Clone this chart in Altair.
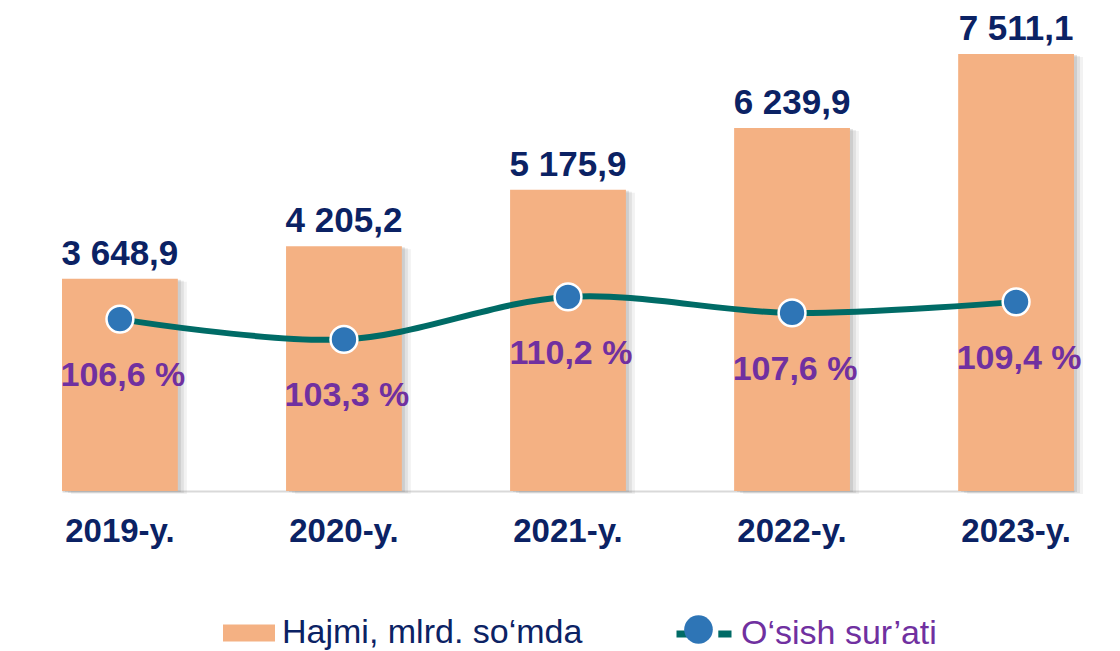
import altair as alt
import pandas as pd

years = ["2019-y.", "2020-y.", "2021-y.", "2022-y.", "2023-y."]
volume = [3648.9, 4205.2, 5175.9, 6239.9, 7511.1]
growth = [106.6, 103.3, 110.2, 107.6, 109.4]

bar_name = "Hajmi, mlrd. so\u2018mda"
line_name = "O\u2018sish sur\u2019ati"
marker_name = "marker"

NAVY = "#0B2264"
PURPLE = "#7030A0"
ORANGE = "#F4B183"
TEAL = "#006B66"
BLUE = "#2E75B6"
FONT = "Liberation Sans"


def fmt_volume(v):
    whole, frac = f"{v:.1f}".split(".")
    n = int(whole)
    s = f"{n:,}".replace(",", " ")
    return f"{s},{frac}"


df = pd.DataFrame({
    "year": years,
    "volume": volume,
    "growth": growth,
    "vol_label": [fmt_volume(v) for v in volume],
    "pct_label": [f"{g:.1f}".replace(".", ",") + " %" for g in growth],
    "s1": [bar_name] * len(years),
    "s2": [line_name] * len(years),
    "s3": [marker_name] * len(years),
})

x_enc = alt.X(
    "year:N",
    sort=years,
    scale=alt.Scale(range=[54, 1066], paddingInner=0.483, paddingOuter=0),
    axis=alt.Axis(
        title=None, labelAngle=0, labelFont=FONT, labelFontSize=33,
        labelFontWeight="bold", labelColor=NAVY, ticks=False,
        domainColor="#D9D9D9", domainWidth=2, labelPadding=24, grid=False,
    ),
)

y_bar = alt.Y("volume:Q", scale=alt.Scale(domain=[0, 8300], nice=False), axis=None)
y_line = alt.Y("growth:Q", scale=alt.Scale(domain=[78.7, 157.1], nice=False, zero=False), axis=None)

base = alt.Chart(df)

shadows = [
    base.mark_bar(color="#7F7F7F", opacity=op, xOffset=xo, yOffset=yo).encode(x=x_enc, y=y_bar)
    for op, xo, yo in [(0.10, 9, 3), (0.14, 6, 2), (0.20, 3, 1)]
]

bars = base.mark_bar(opacity=1).encode(
    x=x_enc,
    y=y_bar,
    color=alt.Color(
        "s1:N",
        scale=alt.Scale(domain=[bar_name], range=[ORANGE]),
        legend=alt.Legend(
            orient="none", legendX=215, legendY=599, title=None,
            symbolType="M-1,-0.33L1,-0.33L1,0.33L-1,0.33Z", symbolSize=2704,
            symbolStrokeWidth=0, symbolOpacity=1,
            labelFont=FONT, labelFontSize=34, labelColor=NAVY, labelOffset=7,
            labelLimit=600, padding=0,
        ),
    ),
)

vol_text = base.mark_text(
    baseline="alphabetic", dy=-14, fontSize=35, fontWeight="bold", color=NAVY, font=FONT
).encode(x=x_enc, y=y_bar, text="vol_label:N")

line = base.mark_line(interpolate="catmull-rom", strokeWidth=6).encode(
    x=x_enc,
    y=y_line,
    stroke=alt.Stroke(
        "s2:N",
        scale=alt.Scale(domain=[line_name], range=[TEAL]),
        legend=alt.Legend(
            orient="none", legendX=665, legendY=595, title=None,
            symbolType="M-1,0L-0.52,0M0.52,0L1,0", symbolSize=3025,
            symbolStrokeWidth=7, labelFont=FONT, labelFontSize=34,
            labelColor=PURPLE, labelOffset=6, labelLimit=600, padding=0,
        ),
    ),
)

points = base.mark_point(filled=True, size=720, stroke="white", strokeWidth=2.5, opacity=1, strokeOpacity=1).encode(
    x=x_enc,
    y=y_line,
    fill=alt.Fill(
        "s3:N",
        scale=alt.Scale(domain=[marker_name], range=[BLUE]),
        legend=alt.Legend(
            orient="none", legendX=676, legendY=607, title=None,
            symbolType="circle", symbolSize=820, symbolStrokeWidth=0,
            labelExpr="''", labelFontSize=1, padding=0,
        ),
    ),
)

pct_text = base.mark_text(
    baseline="middle", dy=57, dx=3, fontSize=34, fontWeight="bold", color=PURPLE, font=FONT
).encode(x=x_enc, y=y_line, text="pct_label:N")

chart = alt.layer(
    *shadows, bars, vol_text, line, points, pct_text
).resolve_scale(
    y="independent"
).properties(
    width=1104,
    height=483,
    autosize=alt.AutoSizeParams(type="none"),
    padding={"left": 0, "top": 0, "right": 0, "bottom": 162},
).configure_view(stroke=None)

chart.save("out.html", embed_options={"renderer": "svg", "actions": False})
